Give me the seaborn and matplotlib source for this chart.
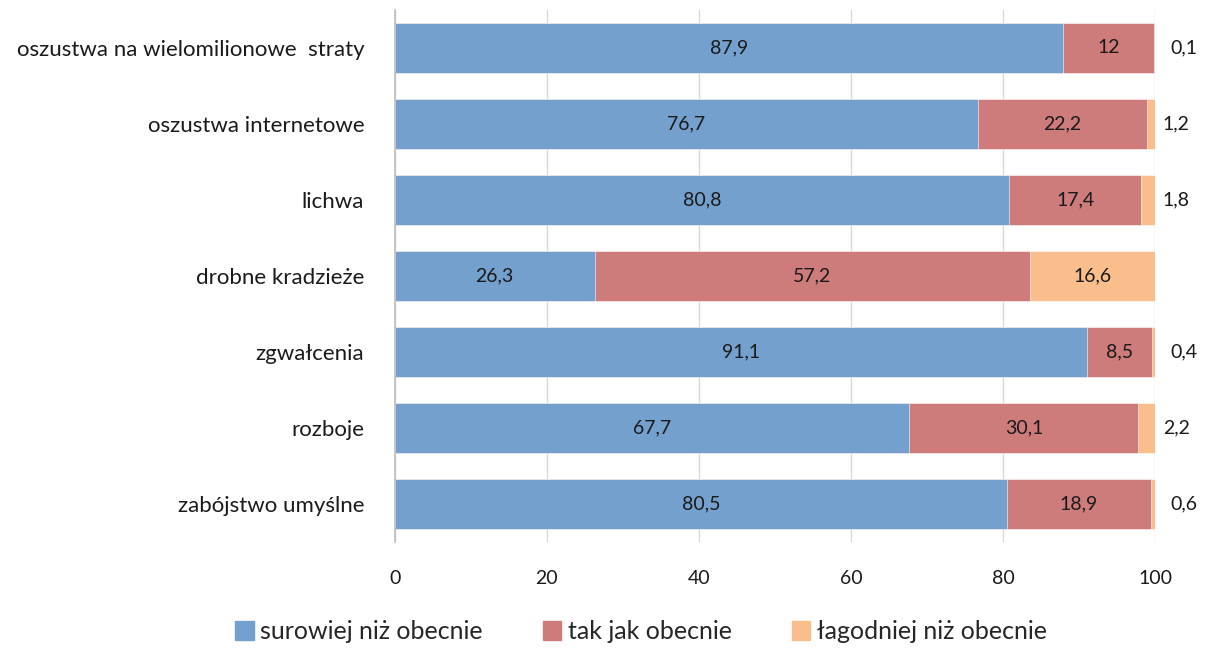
import matplotlib
matplotlib.use("Agg")
import matplotlib.pyplot as plt
import matplotlib.patches as mpatches
import numpy as np
import pandas as pd
import seaborn as sns

# data
categories = ["oszustwa na wielomilionowe  straty", "oszustwa internetowe", "lichwa",
              "drobne kradzieże", "zgwałcenia", "rozboje", "zabójstwo umyślne"]
surowiej = [87.9, 76.7, 80.8, 26.3, 91.1, 67.7, 80.5]
tak_jak = [12.0, 22.2, 17.4, 57.2, 8.5, 30.1, 18.9]
lagodniej = [0.1, 1.2, 1.8, 16.6, 0.4, 2.2, 0.6]
series_names = ["surowiej niż obecnie", "tak jak obecnie", "łagodniej niż obecnie"]
colors = ["#74A0CD", "#CD7B7B", "#FABE8C"]

sns.set_theme(style="white")
plt.rcParams["font.family"] = ["Lato", "DejaVu Sans"]

df = pd.DataFrame({"kat": categories, "s1": surowiej, "s2": tak_jak, "s3": lagodniej})
df["c1"] = df["s1"]
df["c2"] = df["s1"] + df["s2"]
df["c3"] = df["c2"] + df["s3"]

fig = plt.figure(figsize=(12.07, 6.48), dpi=100)
ax = fig.add_axes([0.327, 0.164, 0.630, 0.821])

# stacked bars by overlaying cumulative totals
for col, c in zip(["c3", "c2", "c1"], colors[::-1]):
    sns.barplot(data=df, x=col, y="kat", orient="h", color=c, width=0.66,
                saturation=1, ax=ax, edgecolor="white", linewidth=0.4, zorder=2)

def fmt(v):
    s = f"{v:.1f}".replace(".", ",")
    return s[:-2] if s.endswith(",0") else s

fs = 14
for i in range(len(categories)):
    ax.text(df["s1"][i] / 2, i, fmt(df["s1"][i]), ha="center", va="center",
            fontsize=fs, color="#1a1a1a", zorder=3)
    ax.text(df["c1"][i] + df["s2"][i] / 2, i, fmt(df["s2"][i]), ha="center",
            va="center", fontsize=fs, color="#1a1a1a", zorder=3)
    v3 = df["s3"][i]
    if v3 > 5:
        ax.text(df["c2"][i] + v3 / 2, i, fmt(v3), ha="center", va="center",
                fontsize=fs, color="#1a1a1a", zorder=3)
    else:
        ax.text(101.0 if v3 > 1 else 102.0, i, fmt(v3), ha="left", va="center",
                fontsize=fs, color="#1a1a1a", zorder=3)

ax.set_xlim(0, 100)
ax.set_ylim(6.5, -0.5)
ax.set_xticks([0, 20, 40, 60, 80, 100])
ax.xaxis.grid(True, color="#D9D9D9", linewidth=1, zorder=0)
ax.set_axisbelow(True)
ax.set_xlabel("")
ax.set_ylabel("")
for s in ["top", "right", "bottom"]:
    ax.spines[s].set_visible(False)
ax.spines["left"].set_color("#BFBFBF")
ax.tick_params(axis="x", length=0, pad=20, labelsize=14, colors="#1a1a1a")
ax.tick_params(axis="y", length=0, pad=22, labelsize=16, colors="#1a1a1a")

handles = [mpatches.Patch(color=c, label=n) for c, n in zip(colors, series_names)]
fig.legend(handles=handles, loc="center", bbox_to_anchor=(0.531, 0.025), ncol=3,
           frameon=False, fontsize=18, handlelength=0.75, handleheight=0.75,
           handletextpad=0.25, columnspacing=2.4)

fig.savefig("out.png", dpi=100)
